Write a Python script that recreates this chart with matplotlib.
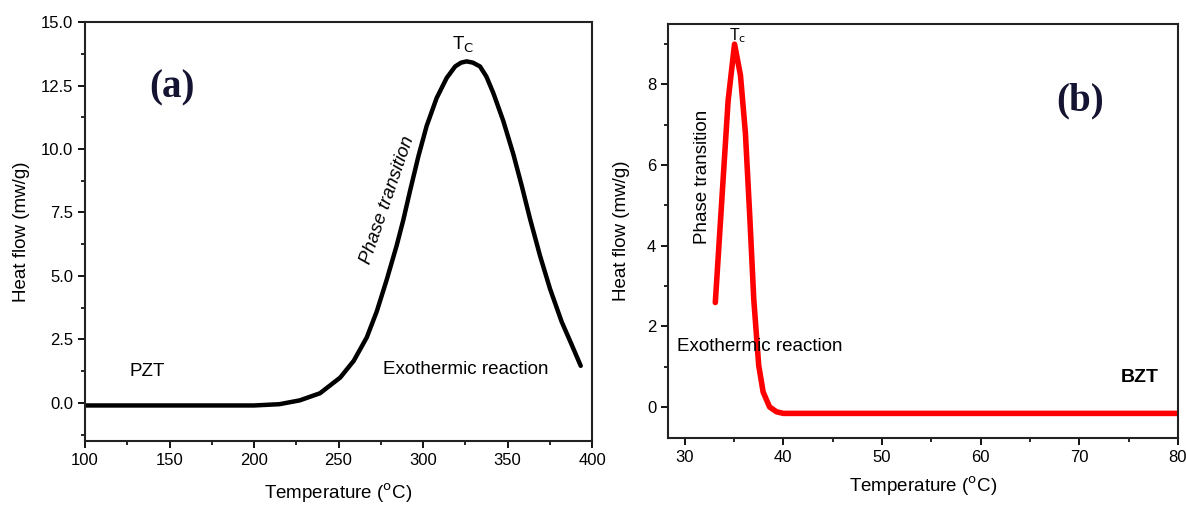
import numpy as np
import matplotlib.pyplot as plt
from matplotlib.ticker import MultipleLocator, FormatStrFormatter

# PZT DSC curve
pzt_temp = [100, 150, 200, 215, 227, 239, 251, 259, 266.7, 272.6, 278.5, 284.4, 288.3, 292.3,
            297.2, 302.1, 308, 314, 319, 322.5, 325.8, 329.5, 333.7, 337.5, 341.6, 347.5,
            353.4, 358.4, 363.3, 369.2, 375.1, 382, 387.9, 393.3]
pzt_heat = [-0.1, -0.1, -0.1, -0.05, 0.1, 0.38, 1.0, 1.66, 2.58, 3.6, 4.85, 6.2, 7.2, 8.35,
            9.7, 10.9, 12.0, 12.8, 13.25, 13.4, 13.45, 13.4, 13.25, 12.85, 12.2, 11.1,
            9.8, 8.55, 7.25, 5.8, 4.5, 3.2, 2.3, 1.46]

# BZT DSC curve
bzt_temp = [33.1, 34.4, 35.05, 35.65, 36.15, 36.6, 37.0, 37.5, 37.95, 38.6, 39.3, 40, 50, 60, 70, 80]
bzt_heat = [2.59, 7.6, 9.0, 8.23, 6.8, 4.7, 2.67, 1.03, 0.37, 0.0, -0.12, -0.16, -0.16, -0.16, -0.16, -0.16]

plt.rcParams['font.family'] = ['Liberation Sans', 'DejaVu Sans']

fig = plt.figure(figsize=(11.86, 5.05), dpi=100)
ax1 = fig.add_axes([0.0717, 0.1267, 0.4275, 0.8297])
ax2 = fig.add_axes([0.5632, 0.1327, 0.430, 0.8198])

# left panel
ax1.plot(pzt_temp, pzt_heat, color='black', lw=3.2, solid_capstyle='round', solid_joinstyle='round')
ax1.set_xlim(100, 400)
ax1.set_ylim(-1.5, 15)
ax1.xaxis.set_major_locator(MultipleLocator(50))
ax1.xaxis.set_minor_locator(MultipleLocator(25))
ax1.yaxis.set_major_locator(MultipleLocator(2.5))
ax1.yaxis.set_minor_locator(MultipleLocator(1.25))
ax1.yaxis.set_major_formatter(FormatStrFormatter('%.1f'))
ax1.set_xlabel('Temperature ($^{\\rm o}$C)', fontsize=13.5, labelpad=10)
ax1.set_ylabel('Heat flow (mw/g)', fontsize=13.5, labelpad=8)
ax1.text(151.5, 12.4, '(a)', fontsize=28, fontweight='bold', family='Liberation Serif',
         color='#141432', ha='center', va='center')
ax1.text(323.7, 14.1, 'T$_{\\rm C}$', fontsize=13.5, ha='center', va='center')
ax1.text(279, 8.0, 'Phase transition', fontsize=13.5, style='italic', rotation=71,
         ha='center', va='center')
ax1.text(137, 1.25, 'PZT', fontsize=13.5, ha='center', va='center')
ax1.text(325.4, 1.3, 'Exothermic reaction', fontsize=13.5, ha='center', va='center')

# right panel
ax2.plot(bzt_temp, bzt_heat, color='red', lw=4.0, solid_capstyle='round', solid_joinstyle='round')
ax2.set_xlim(28.3, 80)
ax2.set_ylim(-0.77, 9.5)
ax2.xaxis.set_major_locator(MultipleLocator(10))
ax2.xaxis.set_minor_locator(MultipleLocator(5))
ax2.yaxis.set_major_locator(MultipleLocator(2))
ax2.yaxis.set_minor_locator(MultipleLocator(1))
ax2.set_xlabel('Temperature ($^{\\rm o}$C)', fontsize=13.5, labelpad=7)
ax2.set_ylabel('Heat flow (mw/g)', fontsize=13.5, labelpad=12)
ax2.text(70.1, 7.6, '(b)', fontsize=28, fontweight='bold', family='Liberation Serif',
         color='#141432', ha='center', va='center')
ax2.text(35.4, 9.2, 'T$_{\\rm c}$', fontsize=11.5, ha='center', va='center')
ax2.text(31.8, 5.7, 'Phase transition', fontsize=13.5, rotation=90, ha='center', va='center')
ax2.text(37.6, 1.5, 'Exothermic reaction', fontsize=13.5, ha='center', va='center')
ax2.text(76.1, 0.72, 'BZT', fontsize=14, fontweight='bold', ha='center', va='center')

for ax in (ax1, ax2):
    for s in ax.spines.values():
        s.set_linewidth(1.5)
        s.set_color('#222222')
    ax.tick_params(which='major', direction='out', length=5, width=1.3, labelsize=12)
    ax.tick_params(which='minor', direction='out', length=3, width=1.2)

fig.savefig('out.png', dpi=100)
